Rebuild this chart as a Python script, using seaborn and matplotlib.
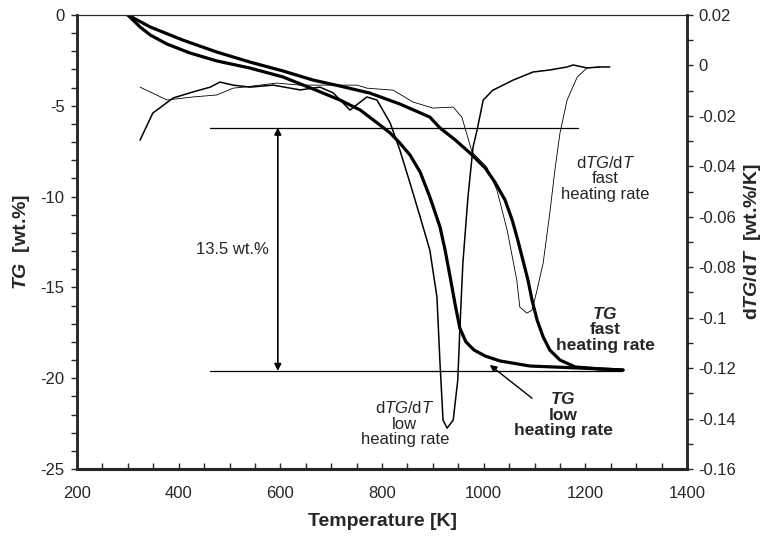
import numpy as np
import pandas as pd
import matplotlib
matplotlib.use("Agg")
import matplotlib.pyplot as plt
from matplotlib.ticker import MultipleLocator, FuncFormatter
import seaborn as sns

# TG curves (left axis): temperature [K], mass change [wt.%]
tg_low_T = [300, 324, 344, 377, 422, 475, 540, 605, 664, 717, 757, 796, 816, 835, 855,
            875, 894, 914, 924, 934, 944, 953, 965, 981, 1003, 1032, 1091, 1189, 1274]
tg_low_v = [0.0, -0.66, -1.10, -1.60, -2.09, -2.53, -2.92, -3.41, -4.07, -4.68, -5.23,
            -6.06, -6.50, -7.05, -7.71, -8.65, -10.02, -11.67, -12.94, -14.43, -15.97,
            -17.24, -18.0, -18.45, -18.78, -19.05, -19.33, -19.44, -19.55]

tg_fast_T = [300, 344, 408, 475, 540, 605, 664, 717, 776, 835, 894, 914, 944, 975, 1003,
             1022, 1042, 1056, 1067, 1077, 1087, 1095, 1105, 1117, 1130, 1150, 1180, 1229, 1274]
tg_fast_v = [0.0, -0.66, -1.38, -2.04, -2.59, -3.08, -3.58, -3.91, -4.30, -4.90, -5.62,
             -6.22, -6.88, -7.65, -8.43, -9.20, -10.19, -11.29, -12.39, -13.49, -14.59,
             -15.69, -16.80, -17.73, -18.45, -19.00, -19.38, -19.49, -19.55]

# dTG/dT curves (right axis) [wt.%/K]
dtg_low_T = [324, 349, 389, 428, 462, 481, 507, 540, 586, 639, 678, 704, 737, 770, 790,
             816, 835, 855, 875, 894, 908, 914, 920, 928, 940, 949, 953, 959, 969, 979,
             987, 999, 1018, 1058, 1097, 1130, 1164, 1176, 1203, 1229, 1248]
dtg_low_v = [-0.0296, -0.0189, -0.0129, -0.0105, -0.0086, -0.0066, -0.0078, -0.0086,
             -0.0078, -0.0097, -0.0086, -0.0109, -0.0177, -0.0125, -0.0137, -0.0228,
             -0.0335, -0.0466, -0.0601, -0.0732, -0.0918, -0.1180, -0.1406, -0.1438,
             -0.1406, -0.1247, -0.1049, -0.0784, -0.0522, -0.0324, -0.0256, -0.0137,
             -0.0098, -0.0058, -0.0026, -0.0018, -0.0006, 0.0002, -0.0010, -0.0006, -0.0006]

dtg_fast_T = [324, 377, 428, 475, 507, 527, 560, 593, 639, 698, 751, 770, 822, 861, 900,
              940, 957, 977, 1006, 1026, 1046, 1065, 1071, 1085, 1095, 1105, 1117, 1130,
              1140, 1150, 1164, 1184, 1203, 1229]
dtg_fast_v = [-0.0086, -0.0137, -0.0125, -0.0117, -0.0090, -0.0086, -0.0078, -0.0070,
              -0.0078, -0.0078, -0.0078, -0.0090, -0.0098, -0.0145, -0.0169, -0.0165,
              -0.0205, -0.0343, -0.0403, -0.0494, -0.0652, -0.0850, -0.0958, -0.0982,
              -0.0970, -0.0890, -0.0783, -0.0585, -0.0415, -0.0268, -0.0137, -0.0046,
              -0.0010, -0.0006]

# mass loss markers
loss_top = -6.2
loss_bottom = -19.6
loss_text = "13.5 wt.%"

# %% style
sns.set_style("ticks")
plt.rcParams["font.family"] = ["Liberation Sans", "DejaVu Sans"]
plt.rcParams["axes.unicode_minus"] = False
plt.rcParams["mathtext.fontset"] = "custom"
plt.rcParams["mathtext.rm"] = "Liberation Sans"
plt.rcParams["mathtext.it"] = "Liberation Sans:italic"
plt.rcParams["mathtext.bf"] = "Liberation Sans:bold"
plt.rcParams["mathtext.bfit"] = "Liberation Sans:italic:bold"

fig = plt.figure(figsize=(7.68, 5.36), dpi=100)
ax = fig.add_axes([0.1003, 0.125, 0.7943, 0.847])
ax2 = ax.twinx()

df_low = pd.DataFrame({"T": tg_low_T, "TG": tg_low_v})
df_fast = pd.DataFrame({"T": tg_fast_T, "TG": tg_fast_v})
sns.lineplot(data=df_low, x="T", y="TG", ax=ax, color="black", linewidth=2.3, sort=False)
sns.lineplot(data=df_fast, x="T", y="TG", ax=ax, color="black", linewidth=2.3, sort=False)

dd_low = pd.DataFrame({"T": dtg_low_T, "d": dtg_low_v})
dd_fast = pd.DataFrame({"T": dtg_fast_T, "d": dtg_fast_v})
sns.lineplot(data=dd_low, x="T", y="d", ax=ax2, color="black", linewidth=1.1, sort=False)
sns.lineplot(data=dd_fast, x="T", y="d", ax=ax2, color="black", linewidth=0.6, sort=False)

# horizontal reference lines and the mass-loss arrow
ax.plot([462, 1186], [loss_top, loss_top], color="black", lw=0.9)
ax.plot([462, 1272], [loss_bottom, loss_bottom], color="black", lw=0.9)
ax.annotate("", xy=(595, loss_top), xytext=(595, loss_bottom),
            arrowprops=dict(arrowstyle="<|-|>", color="black", lw=1.2,
                            mutation_scale=10, shrinkA=0, shrinkB=0))
ax.text(505, -12.9, loss_text, ha="center", va="center", fontsize=12)

# curve labels
ax.text(1239, -9.0, "d$\\mathit{TG}$/d$\\mathit{T}$\nfast\nheating rate",
        ha="center", va="center", fontsize=12, linespacing=1.05)
ax.text(845, -22.5, "d$\\mathit{TG}$/d$\\mathit{T}$\nlow\nheating rate",
        ha="center", va="center", fontsize=12, linespacing=1.05)
ax.text(1239, -17.3, "$\\mathbfit{TG}$\nfast\nheating rate",
        ha="center", va="center", fontsize=12.5, fontweight="bold", linespacing=1.05)
ax.text(1156, -22.0, "$\\mathbfit{TG}$\nlow\nheating rate",
        ha="center", va="center", fontsize=12.5, fontweight="bold", linespacing=1.05)
ax.annotate("", xy=(1012, -19.27), xytext=(1095, -21.1),
            arrowprops=dict(arrowstyle="-|>", color="black", lw=1.0,
                            mutation_scale=10, shrinkA=0, shrinkB=0))

# axes
ax.set_xlim(200, 1400)
ax.set_ylim(-25, 0)
ax2.set_ylim(-0.16, 0.02)
ax.xaxis.set_major_locator(MultipleLocator(200))
ax.xaxis.set_minor_locator(MultipleLocator(50))
ax.yaxis.set_major_locator(MultipleLocator(5))
ax.yaxis.set_minor_locator(MultipleLocator(1))
ax2.yaxis.set_major_locator(MultipleLocator(0.02))
ax2.yaxis.set_minor_locator(MultipleLocator(0.01))
ax2.yaxis.set_major_formatter(FuncFormatter(lambda v, p: "%g" % round(v, 3)))

ax.tick_params(axis="x", which="both", direction="in", length=4, width=1,
               labelsize=12, pad=12, top=False)
ax.tick_params(axis="y", which="both", direction="out", length=4, width=1,
               labelsize=12, pad=5)
ax2.tick_params(axis="y", which="both", direction="out", length=4, width=1,
                labelsize=12, pad=4)

for a in (ax, ax2):
    a.spines["top"].set_linewidth(0.8)
    a.spines["bottom"].set_linewidth(2.2)
    a.spines["left"].set_linewidth(1.8)
    a.spines["right"].set_linewidth(1.8)
    a.spines["top"].set_visible(True)
    a.spines["right"].set_visible(True)

ax.set_xlabel("Temperature [K]", fontsize=14, fontweight="bold", labelpad=9)
ax.set_ylabel("$\\mathbfit{TG}$  [wt.%]", fontsize=14, fontweight="bold")
ax2.set_ylabel("d$\\mathbfit{TG}$/d$\\mathbfit{T}$  [wt.%/K]", fontsize=14, fontweight="bold")
ax.yaxis.set_label_coords(-0.073, 0.5)
ax2.yaxis.set_label_coords(1.09, 0.5)

fig.savefig("out.png", dpi=100)
